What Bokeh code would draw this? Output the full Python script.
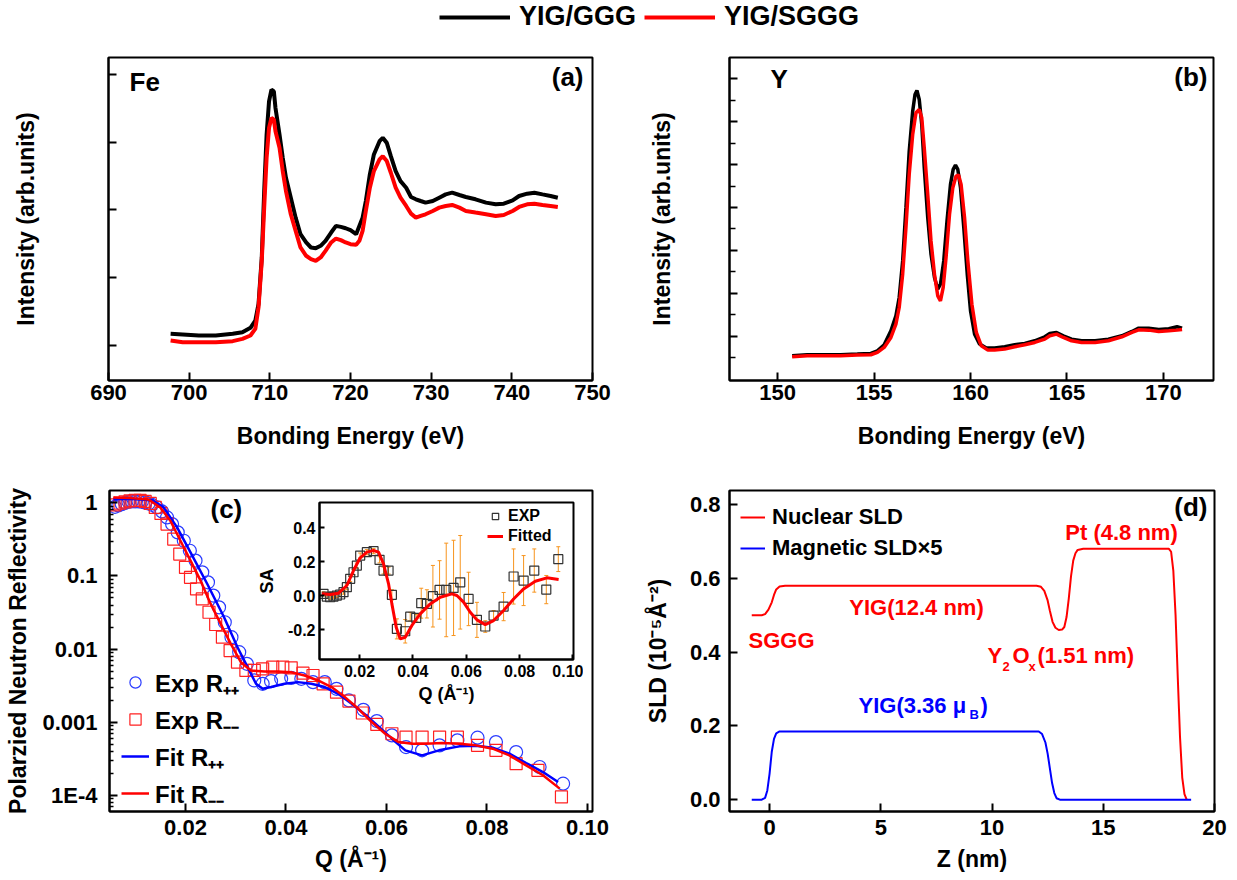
from bokeh.plotting import figure
from bokeh.layouts import column, row
from bokeh.models import (Range1d, FixedTicker, Legend, LegendItem, Label, ColumnDataSource,
                          CustomJSTickFormatter, NumeralTickFormatter, Whisker, TeeHead)
from bokeh.embed import file_html
from bokeh.resources import INLINE

FONT = "Liberation Sans"

# ---------------- data ----------------
series_names = ["YIG/GGG", "YIG/SGGG"]

# (a) Fe XPS
fe_energy = [697.7, 699.2, 701.2, 703.3, 705.4, 706.6, 707.6, 708.2, 708.6, 709.0,
             709.3, 709.6, 709.9, 710.2, 710.5, 710.7, 711.2, 711.6, 712.0, 712.6,
             713.2, 713.8, 714.5, 715.1, 715.7, 716.3, 716.9, 717.6, 718.2, 718.8,
             719.4, 720.0, 720.7, 721.1, 721.5, 721.9, 722.4, 722.9, 723.6, 724.0,
             724.5, 725.0, 725.6, 726.2, 726.9, 727.5, 728.1, 728.7, 729.3, 730.2,
             731.0, 731.8, 732.6, 733.5, 734.3, 735.5, 736.8, 738.0, 739.0, 740.1,
             740.9, 741.9, 742.8, 743.8, 744.8, 745.7]
fe_ggg = [0.172, 0.162, 0.147, 0.147, 0.172, 0.196, 0.260, 0.368, 0.613, 1.299,
          2.279, 3.113, 3.603, 3.775, 3.750, 3.505, 3.113, 2.770, 2.475, 2.181,
          1.887, 1.642, 1.520, 1.446, 1.436, 1.471, 1.544, 1.667, 1.765, 1.750,
          1.730, 1.701, 1.642, 1.765, 1.887, 2.132, 2.525, 2.819, 3.015, 3.064,
          2.990, 2.794, 2.574, 2.426, 2.328, 2.191, 2.157, 2.132, 2.108, 2.132,
          2.181, 2.230, 2.255, 2.221, 2.191, 2.157, 2.108, 2.083, 2.093, 2.142,
          2.206, 2.240, 2.255, 2.230, 2.206, 2.181]
fe_sggg = [0.074, 0.049, 0.049, 0.049, 0.064, 0.098, 0.147, 0.245, 0.564, 1.250,
           2.034, 2.770, 3.211, 3.358, 3.333, 3.162, 2.917, 2.574, 2.279, 1.936,
           1.691, 1.446, 1.324, 1.275, 1.250, 1.299, 1.397, 1.520, 1.578, 1.554,
           1.520, 1.495, 1.485, 1.544, 1.691, 1.985, 2.328, 2.574, 2.745, 2.794,
           2.721, 2.549, 2.328, 2.181, 2.059, 1.946, 1.887, 1.912, 1.936, 1.985,
           2.034, 2.059, 2.074, 2.034, 1.985, 1.961, 1.936, 1.912, 1.926, 1.985,
           2.044, 2.083, 2.093, 2.074, 2.059, 2.044]
fe_xticks = [690, 700, 710, 720, 730, 740, 750]
fe_yticks = [0, 1, 2, 3, 4]

# (b) Y XPS
y_energy_ggg = [150.75, 151.53, 152.40, 153.26, 154.13, 154.83, 155.17, 155.52, 155.87, 156.13,
                156.30, 156.48, 156.65, 156.82, 157.00, 157.12, 157.22, 157.34, 157.47, 157.60,
                157.78, 157.95, 158.13, 158.30, 158.44, 158.61, 158.78, 158.96, 159.10, 159.22,
                159.34, 159.48, 159.65, 159.83, 160.00, 160.21, 160.47, 160.82, 161.25, 161.77,
                162.29, 162.81, 163.33, 163.85, 164.11, 164.46, 164.81, 165.24, 165.76, 166.46,
                167.15, 167.85, 168.37, 168.72, 169.24, 169.76, 170.28, 170.71, 170.97]
y_ggg = [0.093, 0.140, 0.140, 0.140, 0.171, 0.202, 0.326, 0.605, 1.256, 1.953,
         2.806, 4.512, 6.992, 9.628, 11.488, 12.264, 12.450, 12.031, 10.868, 8.853,
         6.527, 4.822, 3.736, 3.194, 3.426, 4.512, 6.372, 8.078, 8.775, 8.977,
         8.775, 7.922, 6.062, 3.891, 2.186, 1.101, 0.636, 0.450, 0.450, 0.512,
         0.605, 0.667, 0.791, 0.977, 1.132, 1.178, 1.023, 0.868, 0.791, 0.791,
         0.868, 1.023, 1.225, 1.380, 1.380, 1.318, 1.349, 1.442, 1.380]
y_energy_sggg = [150.75, 151.53, 152.40, 153.26, 154.13, 154.83, 155.17, 155.52, 155.87, 156.13,
                 156.30, 156.48, 156.65, 156.82, 157.00, 157.17, 157.34, 157.47, 157.60, 157.78,
                 157.95, 158.13, 158.30, 158.44, 158.58, 158.73, 158.91, 159.08, 159.25, 159.38,
                 159.51, 159.69, 159.86, 160.07, 160.30, 160.56, 160.90, 161.25, 161.77, 162.29,
                 162.81, 163.33, 163.85, 164.11, 164.46, 164.81, 165.24, 165.76, 166.46, 167.15,
                 167.85, 168.37, 168.72, 169.24, 169.76, 170.28, 170.71, 170.97]
y_sggg = [0.047, 0.093, 0.093, 0.093, 0.124, 0.140, 0.248, 0.481, 0.946, 1.566,
          2.341, 3.891, 6.062, 8.543, 10.403, 11.411, 11.566, 11.178, 9.783, 7.612,
          5.442, 3.891, 2.884, 2.651, 3.271, 4.667, 6.682, 7.922, 8.465, 8.512,
          8.078, 6.527, 4.512, 2.496, 1.178, 0.558, 0.357, 0.357, 0.403, 0.512,
          0.605, 0.713, 0.868, 1.023, 1.101, 0.946, 0.791, 0.713, 0.713, 0.791,
          0.977, 1.178, 1.302, 1.287, 1.225, 1.256, 1.287, 1.318]
y_xticks = [150, 155, 160, 165, 170]
y_yticks_major = [1, 3, 5, 7, 9, 11, 13]
y_yticks_minor = [0, 2, 4, 6, 8, 10, 12]

# (c) polarized neutron reflectivity
q_pp = [0.00597, 0.00664, 0.00731, 0.00798, 0.00864, 0.00931, 0.00998, 0.01065, 0.01132, 0.01198,
        0.01265, 0.01332, 0.01432, 0.01532, 0.01633, 0.01733, 0.01846, 0.01967, 0.02087, 0.02200,
        0.02334, 0.02448, 0.02554, 0.02668, 0.02782, 0.02915, 0.03069, 0.03222, 0.03369, 0.03536,
        0.03703, 0.03904, 0.04104, 0.04305, 0.04538, 0.04772, 0.05006, 0.05253, 0.05540, 0.05808,
        0.06108, 0.06389, 0.06709, 0.07057, 0.07411, 0.07812, 0.08179, 0.08580, 0.09047, 0.09515]
r_pp = [0.882, 0.920, 0.959, 1.000, 1.032, 1.043, 1.043, 1.043, 1.032, 1.010,
        0.979, 0.939, 0.864, 0.762, 0.631, 0.512, 0.394, 0.303, 0.221, 0.162,
        0.112, 0.0819, 0.0539, 0.0373, 0.0233, 0.01455, 0.00908, 0.00630, 0.00373, 0.00336,
        0.00365, 0.00393, 0.00405, 0.00393, 0.00354, 0.00354, 0.00287, 0.00199, 0.00148, 0.00104,
        0.000663, 0.000459, 0.000414, 0.000484, 0.000566, 0.000616, 0.000537, 0.000392, 0.000245, 0.000145]
q_mm = [0.00597, 0.00697, 0.00798, 0.00898, 0.00998, 0.01098, 0.01198, 0.01299, 0.01399, 0.01512,
        0.01633, 0.01766, 0.01886, 0.02000, 0.02100, 0.02220, 0.02334, 0.02468, 0.02601, 0.02735,
        0.02888, 0.03035, 0.03202, 0.03369, 0.03536, 0.03737, 0.03937, 0.04104, 0.04338, 0.04538,
        0.04739, 0.05006, 0.05253, 0.05520, 0.05808, 0.06108, 0.06389, 0.06709, 0.07057, 0.07411,
        0.07812, 0.08179, 0.08580, 0.09014, 0.09482]
r_mm = [0.939, 0.990, 1.032, 1.065, 1.076, 1.076, 1.043, 0.979, 0.864, 0.715,
        0.512, 0.319, 0.1994, 0.131, 0.0958, 0.0664, 0.0485, 0.0319, 0.0217, 0.01455,
        0.00957, 0.00663, 0.00511, 0.00511, 0.00538, 0.00567, 0.00567, 0.00555, 0.00469, 0.00436,
        0.00336, 0.00258, 0.00195, 0.00134, 0.000936, 0.000698, 0.000629, 0.000629, 0.000629, 0.000629,
        0.000484, 0.000414, 0.000272, 0.000221, 0.0000955]
fit_q_pp = [0.00564, 0.00898, 0.01332, 0.01566, 0.01833, 0.02100, 0.02434, 0.02768, 0.03035, 0.03236,
            0.03403, 0.03536, 0.03703, 0.03971, 0.04238, 0.04505, 0.04772, 0.05039, 0.05307, 0.05574,
            0.05841, 0.06108, 0.06375, 0.06709, 0.07043, 0.07444, 0.07778, 0.08112, 0.08446, 0.08780,
            0.09114, 0.09415]
fit_r_pp = [1.122, 1.134, 1.087, 0.864, 0.461, 0.210, 0.0777, 0.0273, 0.01062, 0.00567,
            0.00336, 0.00287, 0.00303, 0.00336, 0.00354, 0.00336, 0.00303, 0.00245, 0.00179, 0.00128,
            0.000880, 0.000597, 0.000414, 0.000353, 0.000414, 0.000469, 0.000479, 0.000450, 0.000373, 0.000278,
            0.000209, 0.000153]
fit_q_mm = [0.00564, 0.00898, 0.01265, 0.01499, 0.01699, 0.01900, 0.02100, 0.02301, 0.02501, 0.02701,
            0.02902, 0.03102, 0.03303, 0.03570, 0.03837, 0.04104, 0.04371, 0.04638, 0.04906, 0.05173,
            0.05440, 0.05707, 0.05975, 0.06242, 0.06509, 0.06776, 0.07110, 0.07444, 0.07778, 0.08112,
            0.08446, 0.08780, 0.09114, 0.09448]
fit_r_mm = [1.182, 1.158, 1.110, 0.864, 0.568, 0.303, 0.162, 0.0863, 0.0415, 0.0221,
            0.0118, 0.00663, 0.00511, 0.00494, 0.00494, 0.00484, 0.00436, 0.00373, 0.00303, 0.00221,
            0.00153, 0.00101, 0.000698, 0.000537, 0.000510, 0.000510, 0.000521, 0.000510, 0.000484, 0.000436,
            0.000353, 0.000258, 0.000189, 0.000124]
pnr_xticks = [0.02, 0.04, 0.06, 0.08, 0.10]
pnr_yticks = [1e-4, 1e-3, 1e-2, 1e-1, 1.0]

# (c) inset: spin asymmetry
sa_q = [0.0065, 0.00775, 0.009, 0.01025, 0.0115, 0.01275, 0.014, 0.01525, 0.0165, 0.01775,
        0.019, 0.02025, 0.02275, 0.02525, 0.0275, 0.029, 0.03088, 0.03213, 0.034, 0.03713,
        0.039, 0.04125, 0.04313, 0.04525, 0.0475, 0.05, 0.0525, 0.05525, 0.05775, 0.06088,
        0.064, 0.06713, 0.07025, 0.074, 0.07775, 0.0815, 0.0855, 0.09, 0.0945]
sa_val = [0.010, -0.006, -0.010, -0.006, 0.000, 0.006, 0.020, 0.049, 0.098, 0.137,
          0.176, 0.235, 0.255, 0.261, 0.210, 0.147, 0.147, 0.004, -0.196, -0.210,
          -0.124, -0.131, -0.045, -0.049, -0.004, 0.033, 0.033, 0.045, 0.078, -0.020,
          -0.143, -0.182, -0.118, -0.065, 0.112, 0.088, 0.147, 0.035, 0.214]
sa_err = [0.012, 0.012, 0.012, 0.012, 0.012, 0.012, 0.012, 0.015, 0.015, 0.015,
          0.015, 0.015, 0.015, 0.015, 0.018, 0.020, 0.020, 0.030, 0.059, 0.069,
          0.025, 0.020, 0.088, 0.083, 0.181, 0.172, 0.275, 0.280, 0.275, 0.157,
          0.103, 0.034, 0.030, 0.083, 0.162, 0.147, 0.127, 0.083, 0.073]
sa_fit_q = [0.00588, 0.009, 0.01213, 0.01525, 0.01775, 0.02025, 0.02275, 0.02525, 0.02713, 0.029,
            0.03088, 0.03213, 0.03375, 0.03525, 0.03713, 0.03963, 0.04275, 0.0465, 0.05025, 0.05463,
            0.0565, 0.059, 0.0615, 0.064, 0.06713, 0.07025, 0.074, 0.07775, 0.0815, 0.08588,
            0.09025, 0.09463]
sa_fit = [0.010, 0.006, 0.014, 0.059, 0.147, 0.222, 0.255, 0.265, 0.255, 0.186,
          0.069, -0.049, -0.186, -0.255, -0.245, -0.176, -0.108, -0.049, -0.010, 0.010,
          0.000, -0.039, -0.098, -0.143, -0.171, -0.147, -0.088, -0.020, 0.039, 0.084,
          0.104, 0.094]
sa_xticks = [0.02, 0.04, 0.06, 0.08, 0.10]
sa_yticks = [-0.2, 0.0, 0.2, 0.4]

# (d) SLD profile
z_nuc = [-0.8, -0.35, -0.2, -0.05, 0.1, 0.2, 0.3, 0.45, 0.7, 12.0,
         12.2, 12.35, 12.5, 12.6, 12.72, 12.85, 13.0, 13.15, 13.25, 13.35,
         13.45, 13.55, 13.65, 13.75, 13.85, 14.1, 17.95, 18.05, 18.15, 18.25,
         18.35, 18.45, 18.55, 18.65, 18.75]
sld_nuc = [0.500, 0.500, 0.503, 0.515, 0.535, 0.555, 0.570, 0.578, 0.580, 0.580,
           0.577, 0.566, 0.540, 0.512, 0.482, 0.466, 0.460, 0.461, 0.468, 0.495,
           0.545, 0.605, 0.648, 0.668, 0.677, 0.680, 0.680, 0.672, 0.620, 0.500,
           0.330, 0.170, 0.060, 0.015, 0.000]
z_mag = [-0.8, -0.35, -0.2, -0.1, 0.0, 0.1, 0.2, 0.3, 0.45, 12.1,
         12.25, 12.4, 12.5, 12.6, 12.7, 12.8, 12.9, 13.05, 18.95]
sld_mag = [0.000, 0.000, 0.005, 0.025, 0.070, 0.130, 0.165, 0.180, 0.185, 0.185,
           0.178, 0.155, 0.125, 0.085, 0.045, 0.018, 0.004, 0.000, 0.000]
sld_xticks = [0, 5, 10, 15, 20]
sld_yticks = [0.0, 0.2, 0.4, 0.6, 0.8]


# ---------------- helpers ----------------
def style(p, tick_size="22px", label_size="23px", tick_in=8):
    p.outline_line_color = "black"
    p.outline_line_width = 2
    p.grid.visible = False
    for ax in p.axis:
        ax.axis_line_width = 2
        ax.axis_line_color = "black"
        ax.major_tick_in = tick_in
        ax.major_tick_out = 0
        ax.minor_tick_in = max(2, tick_in // 2)
        ax.minor_tick_out = 0
        ax.major_tick_line_width = 2
        ax.minor_tick_line_width = 1.5
        ax.major_label_text_font = FONT
        ax.major_label_text_font_style = "bold"
        ax.major_label_text_font_size = tick_size
        ax.major_label_text_color = "black"
        ax.axis_label_text_font = FONT
        ax.axis_label_text_font_style = "bold"
        ax.axis_label_text_font_size = label_size
        ax.axis_label_text_color = "black"


def lab(p, x, y, text, size="22px", color="black", align="left", style="bold"):
    p.add_layout(Label(x=x, y=y, x_units="screen", y_units="screen", text=text,
                       text_font=FONT, text_font_style=style, text_font_size=size,
                       text_color=color, text_align=align, text_baseline="middle"))


def legend(items, location, glyph_w, item_h, standoff, size, orientation="vertical", spacing=1):
    return Legend(items=items, location=location, orientation=orientation,
                  glyph_width=glyph_w, glyph_height=item_h, label_height=item_h,
                  label_standoff=standoff, spacing=spacing, padding=0, margin=0,
                  border_line_color=None, background_fill_alpha=0,
                  label_text_font=FONT, label_text_font_style="bold",
                  label_text_font_size=size, label_text_color="black")


# ---------------- top legend ----------------
leg_fig = figure(width=1237, height=40, x_range=Range1d(0, 1), y_range=Range1d(0, 1),
                 output_backend="svg", toolbar_location=None, min_border=0,
                 x_axis_type=None, y_axis_type=None, outline_line_color=None)
# legend proxies: the Fe curves, far outside this strip's visible range
lg1 = leg_fig.line(fe_energy, fe_ggg, line_color="black", line_width=4)
lg2 = leg_fig.line(fe_energy, fe_sggg, line_color="red", line_width=4)
leg_fig.add_layout(legend([LegendItem(label=series_names[0], renderers=[lg1]),
                           LegendItem(label=series_names[1], renderers=[lg2])],
                          (369, 8), 71, 30, 9, "27px", orientation="horizontal", spacing=8))

# ---------------- (a) ----------------
fig_a = figure(width=620, height=420, x_range=Range1d(690, 750), y_range=Range1d(-0.517, 4.25),
               output_backend="svg", toolbar_location=None,
               min_border_left=108, min_border_right=28, min_border_top=17, min_border_bottom=80)
fig_a.line(fe_energy, fe_ggg, line_color="black", line_width=4)
fig_a.line(fe_energy, fe_sggg, line_color="red", line_width=4)
style(fig_a)
fig_a.xaxis.ticker = FixedTicker(ticks=fe_xticks)
fig_a.yaxis.ticker = FixedTicker(ticks=fe_yticks)
fig_a.yaxis.formatter = CustomJSTickFormatter(code="return '';")
fig_a.yaxis.major_label_standoff = 0
fig_a.yaxis.axis_label = "Intensity (arb.units)"
fig_a.yaxis.axis_label_standoff = 70
fig_a.xaxis.axis_label = "Bonding Energy (eV)"
fig_a.xaxis.major_label_standoff = 4
fig_a.xaxis.axis_label_standoff = 20
lab(fig_a, 21, 299, "Fe", size="26px")
lab(fig_a, 475, 304, "(a)", size="26px", align="right")

# ---------------- (b) ----------------
fig_b = figure(width=617, height=420, x_range=Range1d(147.5, 172.6), y_range=Range1d(-1.06, 13.99),
               output_backend="svg", toolbar_location=None,
               min_border_left=109, min_border_right=24, min_border_top=17, min_border_bottom=80)
fig_b.line(y_energy_ggg, y_ggg, line_color="black", line_width=3.5)
fig_b.line(y_energy_sggg, y_sggg, line_color="red", line_width=3.5)
style(fig_b)
fig_b.xaxis.ticker = FixedTicker(ticks=y_xticks)
fig_b.yaxis.ticker = FixedTicker(ticks=y_yticks_major, minor_ticks=y_yticks_minor)
fig_b.yaxis.minor_tick_in = 6
fig_b.yaxis.formatter = CustomJSTickFormatter(code="return '';")
fig_b.yaxis.major_label_standoff = 0
fig_b.yaxis.axis_label = "Intensity (arb.units)"
fig_b.yaxis.axis_label_standoff = 55
fig_b.xaxis.axis_label = "Bonding Energy (eV)"
fig_b.xaxis.major_label_standoff = 4
fig_b.xaxis.axis_label_standoff = 20
lab(fig_b, 41, 302, "Y", size="26px")
lab(fig_b, 478, 304, "(b)", size="26px", align="right")

# ---------------- (c) ----------------
fig_c = figure(width=620, height=419, x_range=Range1d(0.00488, 0.101), y_range=Range1d(6.04e-5, 1.472),
               y_axis_type="log", output_backend="svg", toolbar_location=None,
               min_border_left=109, min_border_right=28, min_border_top=30, min_border_bottom=68)
rc1 = fig_c.scatter(q_pp, r_pp, marker="circle", size=13, fill_color=None, line_color="#2A3CFF", line_width=1.2)
rc2 = fig_c.scatter(q_mm, r_mm, marker="square", size=12, fill_color=None, line_color="#FF2020", line_width=1.2)
rc3 = fig_c.line(fit_q_pp, fit_r_pp, line_color="blue", line_width=2.5)
rc4 = fig_c.line(fit_q_mm, fit_r_mm, line_color="red", line_width=2.5)
style(fig_c)
fig_c.xaxis.ticker = FixedTicker(ticks=pnr_xticks)
fig_c.xaxis.formatter = NumeralTickFormatter(format="0.00")
minor_log = [m * 10.0 ** e for e in range(-5, 1) for m in range(2, 10) if 6.04e-5 < m * 10.0 ** e < 1.47]
fig_c.yaxis.ticker = FixedTicker(ticks=pnr_yticks, minor_ticks=minor_log)
fig_c.yaxis.formatter = CustomJSTickFormatter(
    code="if (tick >= 0.00099) { return String(parseFloat(tick.toPrecision(3))); } "
         "return '1E' + Math.round(Math.log10(tick));")
fig_c.yaxis.major_label_standoff = 12
fig_c.yaxis.axis_label = "Polarzied Neutron Reflectivity"
fig_c.yaxis.axis_label_standoff = 8
fig_c.xaxis.axis_label = "Q (Å⁻¹)"
fig_c.xaxis.major_label_standoff = 8
fig_c.xaxis.axis_label_standoff = 8
fig_c.add_layout(legend([LegendItem(label="Exp R₊₊", renderers=[rc1]),
                         LegendItem(label="Exp R₋₋", renderers=[rc2]),
                         LegendItem(label="Fit R₊₊", renderers=[rc3]),
                         LegendItem(label="Fit R₋₋", renderers=[rc4])],
                        (12, 0), 28, 36, 6, "24px"))
lab(fig_c, 101, 303, "(c)", size="26px")

# ---------------- (d) ----------------
fig_d = figure(width=617, height=419, x_range=Range1d(-1.8, 20.0), y_range=Range1d(-0.032, 0.838),
               output_backend="svg", toolbar_location=None,
               min_border_left=109, min_border_right=23, min_border_top=29, min_border_bottom=68)
rd1 = fig_d.line(z_nuc, sld_nuc, line_color="red", line_width=2)
rd2 = fig_d.line(z_mag, sld_mag, line_color="blue", line_width=2)
style(fig_d)
fig_d.xaxis.ticker = FixedTicker(ticks=sld_xticks)
fig_d.yaxis.ticker = FixedTicker(ticks=sld_yticks)
fig_d.yaxis.formatter = NumeralTickFormatter(format="0.0")
fig_d.yaxis.major_label_standoff = 9
fig_d.yaxis.axis_label = "SLD (10⁻⁵Å⁻²)"
fig_d.yaxis.axis_label_standoff = 16
fig_d.xaxis.axis_label = "Z (nm)"
fig_d.xaxis.major_label_standoff = 8
fig_d.xaxis.axis_label_standoff = 8
fig_d.add_layout(legend([LegendItem(label="Nuclear SLD", renderers=[rd1]),
                         LegendItem(label="Magnetic SLD×5", renderers=[rd2])],
                        (11, 248), 25, 30, 7, "22px"))
lab(fig_d, 478, 305, "(d)", size="26px", align="right")
lab(fig_d, 392, 279, "Pt (4.8 nm)", color="red", align="center")
lab(fig_d, 187, 204, "YIG(12.4 nm)", color="red", align="center")
lab(fig_d, 52, 171, "SGGG", color="red", align="center")
lab(fig_d, 258, 156, "Y", color="red")
lab(fig_d, 273, 145, "2", size="13px", color="red")
lab(fig_d, 283, 156, "O", color="red")
lab(fig_d, 299, 145, "x", size="13px", color="red")
lab(fig_d, 308, 156, "(1.51 nm)", color="red")
lab(fig_d, 129, 106, "YIG(3.36 μ", color="blue")
lab(fig_d, 240, 97, "B", size="13px", color="blue")
lab(fig_d, 251, 106, ")", color="blue")

# ---------------- inset of (c) ----------------
inset = figure(width=334, height=222, x_range=Range1d(0.005, 0.1002), y_range=Range1d(-0.376, 0.547),
               output_backend="svg", toolbar_location=None,
               min_border_left=70, min_border_right=10, min_border_top=5, min_border_bottom=60,
               border_fill_color=None, background_fill_color="white")
src_sa = ColumnDataSource(dict(q=sa_q, sa=sa_val,
                               lo=[v - e for v, e in zip(sa_val, sa_err)],
                               hi=[v + e for v, e in zip(sa_val, sa_err)]))
inset.add_layout(Whisker(base="q", upper="hi", lower="lo", source=src_sa,
                         line_color="#F7941D", line_width=1,
                         upper_head=TeeHead(size=4, line_color="#F7941D", line_width=1),
                         lower_head=TeeHead(size=4, line_color="#F7941D", line_width=1)))
ri1 = inset.scatter("q", "sa", source=src_sa, marker="square", size=9, fill_color=None,
                    line_color="#333333", line_width=1.2)
ri2 = inset.line(sa_fit_q, sa_fit, line_color="red", line_width=3)
style(inset, tick_size="16px", label_size="18px", tick_in=5)
inset.xaxis.ticker = FixedTicker(ticks=sa_xticks)
inset.xaxis.formatter = NumeralTickFormatter(format="0.00")
inset.yaxis.ticker = FixedTicker(ticks=sa_yticks)
inset.yaxis.formatter = NumeralTickFormatter(format="0.0")
inset.yaxis.major_label_standoff = 4
inset.yaxis.axis_label = "SA"
inset.yaxis.axis_label_standoff = 8
inset.xaxis.axis_label = "Q (Å⁻¹)"
inset.xaxis.major_label_standoff = 5
inset.xaxis.axis_label_standoff = 4
inset.add_layout(legend([LegendItem(label="EXP", renderers=[ri1]),
                         LegendItem(label="Fitted", renderers=[ri2])],
                        (168, 113), 16, 20, 5, "16px", spacing=0))
inset.styles = {"position": "absolute", "left": "249px", "top": "497px", "z-index": "5"}

root = column(leg_fig, row(fig_a, fig_b), row(fig_c, fig_d), inset)
open("out.html", "w").write(file_html(root, INLINE, title="YIG XPS and PNR"))
